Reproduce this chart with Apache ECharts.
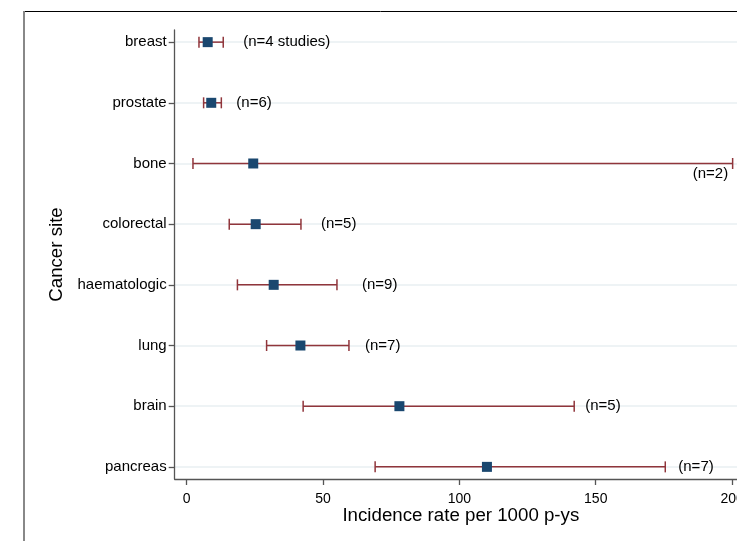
<!DOCTYPE html>
<html>
<head>
<meta charset="utf-8">
<script src="https://cdn.jsdelivr.net/npm/echarts@6/dist/echarts.min.js"></script>
<style>
html,body{margin:0;padding:0;background:#fff;}
#chart{width:737px;height:541px;}
</style>
</head>
<body>
<div id="chart"></div>
<script>
// ---- data ----
var categories = ['breast','prostate','bone','colorectal','haematologic','lung','brain','pancreas'];
var estimate   = [7.7, 9.0, 24.4, 25.3, 31.9, 41.7, 78.0, 110.1];
var lower      = [4.5, 6.2, 2.3, 15.6, 18.6, 29.3, 42.7, 69.1];
var upper      = [13.4, 12.7, 200.2, 41.9, 55.1, 59.5, 142.1, 175.5];
var nLabels    = ['(n=4 studies)','(n=6)','(n=2)','(n=5)','(n=9)','(n=7)','(n=5)','(n=7)'];
var xTicks     = [0, 50, 100, 150, 200];

// ---- layout (pixels) ----
var labelGap   = [20, 15, 0, 20, 25, 16, 11, 13];   // gap right of upper cap
var FONT = 'Liberation Sans, Arial, sans-serif';
var rowIdx = categories.map(function(_, i){ return i; });

var ciData = categories.map(function(c, i){ return [lower[i], upper[i], i]; });
var ptData = categories.map(function(c, i){ return [estimate[i], i]; });
var lbData = categories.map(function(c, i){ return [upper[i], i]; });

var chart = echarts.init(document.getElementById('chart'), null, {renderer:'canvas'});
chart.setOption({
  animation: false,
  backgroundColor: '#fff',
  grid: { left: 174.7, right: 0, top: 30, bottom: 62, containLabel: false, outerBoundsMode: 'none' },
  xAxis: {
    type: 'value',
    min: -4.4, max: 201.8,
    name: 'Incidence rate per 1000 p-ys',
    nameLocation: 'middle',
    nameGap: 27,
    nameMoveOverlap: false,
    nameTextStyle: { fontFamily: FONT, fontSize: 18.7, color: '#000', padding: [0,0,0,10] },
    axisLine: { show: true, onZero: false, lineStyle: { color: '#555', width: 1.3 } },
    axisTick: { show: true, length: 6, customValues: xTicks, lineStyle: { color: '#555', width: 1.3 } },
    axisLabel: { customValues: xTicks, fontFamily: FONT, fontSize: 14, color: '#000', margin: 13 },
    splitLine: { show: false }
  },
  yAxis: {
    type: 'value',
    inverse: true,
    min: -0.2, max: 7.2,
    name: 'Cancer site',
    nameLocation: 'middle',
    nameGap: 108,
    nameMoveOverlap: false,
    nameRotate: 90,
    nameTextStyle: { fontFamily: FONT, fontSize: 18.7, color: '#000' },
    axisLine: { show: true, onZero: false, lineStyle: { color: '#555', width: 1.3 } },
    axisTick: { show: true, length: 6, customValues: rowIdx, lineStyle: { color: '#555', width: 1.3 } },
    axisLabel: { customValues: rowIdx, fontFamily: FONT, fontSize: 15, color: '#000', margin: 8,
      formatter: function(v){ return categories[Math.round(v)] || ''; } },
    splitLine: { show: true, lineStyle: { color: '#e8eff2', width: 1.5 } }
  },
  graphic: [
    { type: 'line', shape: { x1: 24, y1: 11.5, x2: 737, y2: 11.5 }, style: { stroke: '#000', lineWidth: 1 }, z: 10 },
    { type: 'line', shape: { x1: 24, y1: 11, x2: 24, y2: 541 }, style: { stroke: '#888', lineWidth: 2 }, z: 10 }
  ],
  series: [
    {
      type: 'custom',
      clip: false,
      data: ciData,
      renderItem: function(params, api){
        var lo = api.coord([api.value(0), api.value(2)]);
        var hi = api.coord([api.value(1), api.value(2)]);
        var h = 5.5;
        var st = { stroke: '#90353b', lineWidth: 1.5 };
        return { type: 'group', children: [
          { type: 'line', shape: { x1: lo[0], y1: lo[1], x2: hi[0], y2: hi[1] }, style: st },
          { type: 'line', shape: { x1: lo[0], y1: lo[1]-h, x2: lo[0], y2: lo[1]+h }, style: st },
          { type: 'line', shape: { x1: hi[0], y1: hi[1]-h, x2: hi[0], y2: hi[1]+h }, style: st }
        ]};
      },
      z: 2
    },
    {
      type: 'scatter',
      data: ptData,
      symbol: 'rect',
      symbolSize: 10,
      itemStyle: { color: '#1a476f', opacity: 1 },
      z: 3
    },
    {
      type: 'custom',
      clip: false,
      data: lbData,
      renderItem: function(params, api){
        var i = params.dataIndex;
        var p = api.coord([api.value(0), api.value(1)]);
        var special = (categories[i] === 'bone');
        return {
          type: 'text',
          style: {
            x: special ? p[0] - 4.5 : p[0] + labelGap[i],
            y: special ? p[1] + 10 : p[1],
            text: nLabels[i],
            font: '15px ' + FONT,
            fill: '#000',
            align: special ? 'right' : 'left',
            verticalAlign: 'middle'
          }
        };
      },
      z: 4
    }
  ]
});
</script>
</body>
</html>
